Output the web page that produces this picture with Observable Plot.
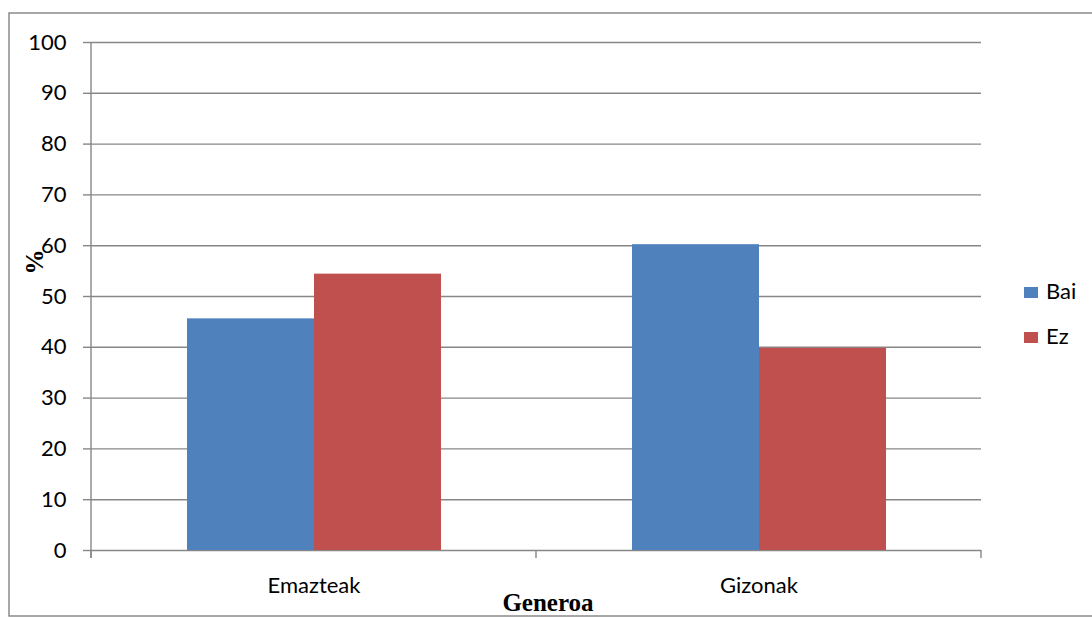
<!DOCTYPE html>
<html>
<head>
<meta charset="utf-8">
<script src="https://cdn.jsdelivr.net/npm/d3@7"></script>
<script src="https://cdn.jsdelivr.net/npm/@observablehq/plot@0.6"></script>
<style>
  html, body { margin: 0; padding: 0; background: #fff; }
  #chart { width: 1092px; height: 617px; overflow: hidden; }
</style>
</head>
<body>
<div id="chart"></div>
<script>
// Survey answers by gender, in percent
const categories = ["Emazteak", "Gizonak"];
const series = ["Bai", "Ez"];
const baiValues = [45.6, 60.2];
const ezValues = [54.4, 39.8];
const yTicks = [0, 10, 20, 30, 40, 50, 60, 70, 80, 90, 100];
const seriesColors = ["#4F81BD", "#C0504D"];

const rows = categories.flatMap((genero, i) => [
  {genero, erantzuna: series[0], value: baiValues[i]},
  {genero, erantzuna: series[1], value: ezValues[i]}
]);

const gridColor = "#878787";

const chart = Plot.plot({
  width: 1092,
  height: 617,
  marginLeft: 91,
  marginRight: 111,
  marginTop: 42,
  marginBottom: 67,
  style: {fontFamily: "Lato, 'Open Sans', sans-serif", fontSize: "22px", color: "#000", background: "#fff", overflow: "visible"},
  fx: {domain: categories, padding: 0, label: null, tickSize: 0, tickPadding: 27, axis: "bottom"},
  x: {domain: series, paddingInner: 0, paddingOuter: 0.75, axis: null},
  y: {domain: [0, 100], ticks: yTicks, tickSize: 8, tickPadding: 17, label: null},
  color: {domain: series, range: seriesColors},
  marks: [
    Plot.ruleY(yTicks, {stroke: gridColor, strokeWidth: 1.4}),
    Plot.barY(rows, {fx: "genero", x: "erantzuna", y: "value", fill: "erantzuna"})
  ]
});

document.getElementById("chart").appendChild(chart);

const svg = d3.select(chart);
const y = chart.scale("y");
const fx = chart.scale("fx");
const color = chart.scale("color");
const y0 = y.apply(0);
const yTop = y.apply(100);

// grey axis ticks
svg.selectAll("[aria-label='y-axis tick'] path, [aria-label='y-axis tick']").attr("stroke", gridColor).attr("stroke-width", 1.4);

const axes = svg.append("g").attr("stroke", gridColor).attr("stroke-width", 1.4);
const xLeft = fx.apply(categories[0]);
// vertical value axis
axes.append("line").attr("x1", xLeft).attr("x2", xLeft).attr("y1", yTop).attr("y2", y0 + 8);
// category boundary ticks
const edges = categories.map(c => fx.apply(c)).concat([fx.apply(categories[categories.length - 1]) + fx.bandwidth]);
edges.forEach(x => axes.append("line").attr("x1", x).attr("x2", x).attr("y1", y0).attr("y2", y0 + 8));

// outer chart border
svg.append("rect")
  .attr("x", 9).attr("y", 13).attr("width", 1100).attr("height", 603)
  .attr("fill", "none").attr("stroke", "#8a8a8a").attr("stroke-width", 1.5);

// axis titles
svg.append("text")
  .attr("x", 548).attr("y", 611)
  .attr("text-anchor", "middle")
  .attr("font-family", "'Liberation Serif', 'DejaVu Serif', serif")
  .attr("font-weight", "bold").attr("font-size", 25)
  .attr("fill", "#000")
  .text("Generoa");

svg.append("text")
  .attr("transform", "translate(43,262) rotate(-90)")
  .attr("text-anchor", "middle")
  .attr("font-family", "'Liberation Serif', 'DejaVu Serif', serif")
  .attr("font-weight", "bold").attr("font-size", 25)
  .attr("fill", "#000")
  .text("%");

// legend
const legend = svg.append("g").attr("transform", "translate(1024,287)").attr("text-anchor", "start");
series.forEach((s, i) => {
  const g = legend.append("g").attr("transform", `translate(0,${i * 45})`);
  g.append("rect").attr("width", 14).attr("height", 11).attr("fill", color.apply(s));
  g.append("text").attr("x", 22).attr("y", 12).attr("fill", "#000").text(s);
});
</script>
</body>
</html>
